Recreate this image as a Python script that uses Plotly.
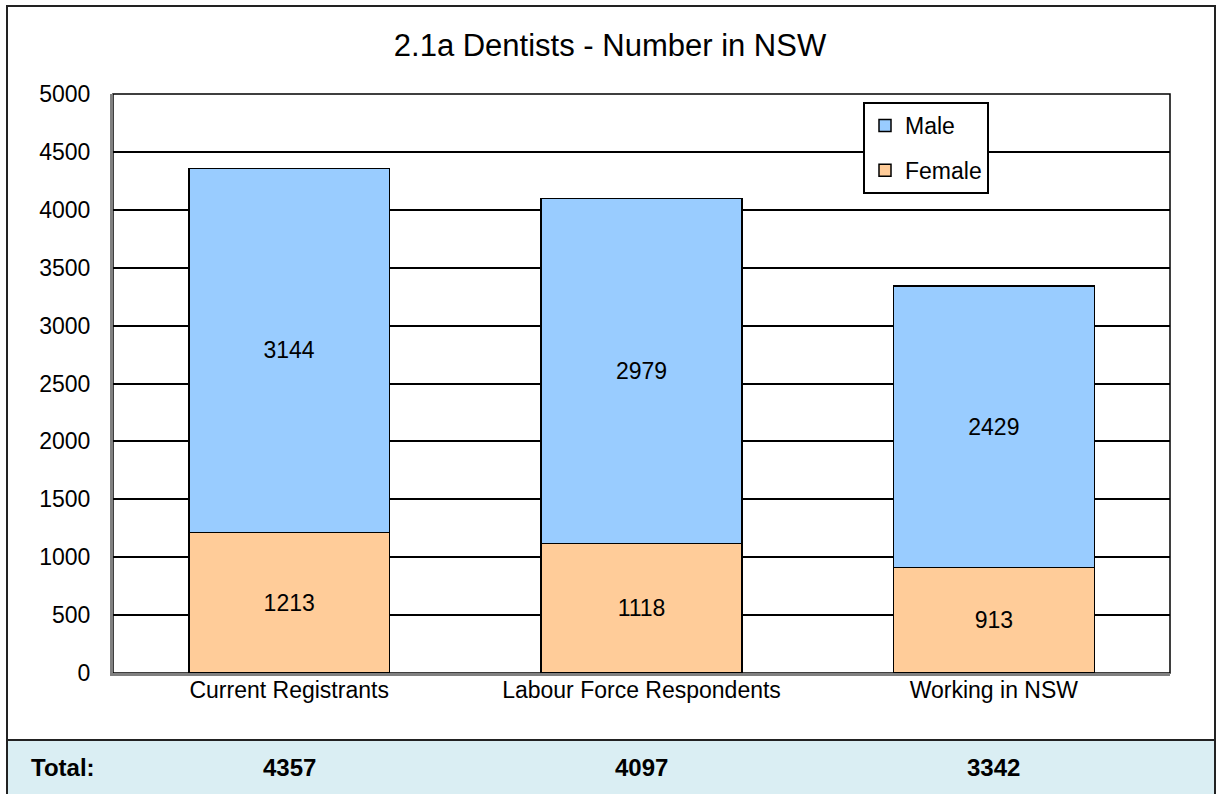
import plotly.graph_objects as go

categories = ["Current Registrants", "Labour Force Respondents", "Working in NSW"]
female = [1213, 1118, 913]
male = [3144, 2979, 2429]
totals = [f + m for f, m in zip(female, male)]
y_ticks = [0, 500, 1000, 1500, 2000, 2500, 3000, 3500, 4000, 4500, 5000]

W, H = 1217, 794
L, R, T, B = 113, 1170, 94, 673

def px(x):
    return (x - L) / (R - L)

def py(y):
    return (B - y) / (B - T)

font_family = "Liberation Sans, Arial, sans-serif"

fig = go.Figure()
fig.add_trace(go.Bar(
    name="Female", x=categories, y=female, legendgroup="f", legendrank=2,
    marker=dict(color="#ffcc99", line=dict(color="black", width=1.5)),
    text=[str(v) for v in female], textposition="inside", insidetextanchor="middle",
    textfont=dict(size=23, color="black", family=font_family),
    width=0.57, hoverinfo="skip",
))
fig.add_trace(go.Bar(
    name="Male", x=categories, y=male, legendgroup="m", legendrank=1,
    marker=dict(color="#99ccff", line=dict(color="black", width=1.5)),
    text=[str(v) for v in male], textposition="inside", insidetextanchor="middle",
    textfont=dict(size=23, color="black", family=font_family),
    width=0.57, hoverinfo="skip",
))

shapes = [
    # plot area frame (top/right black)
    dict(type="rect", xref="paper", yref="paper", x0=0, x1=1, y0=0, y1=1,
         line=dict(color="black", width=1.5), layer="below"),
    # total band
    dict(type="rect", xref="paper", yref="paper", x0=px(7), x1=px(1215), y0=py(800), y1=py(740),
         line=dict(color="#222222", width=2), fillcolor="#daeef3", layer="below"),
    # outer chart border
    dict(type="rect", xref="paper", yref="paper", x0=px(7), x1=px(1215), y0=py(740), y1=py(6),
         line=dict(color="#222222", width=2), fillcolor="rgba(0,0,0,0)"),
]

annotations = [
    dict(text="<b>Total:</b>", xref="paper", yref="paper", x=px(29), y=py(767),
         xanchor="left", yanchor="middle", showarrow=False,
         font=dict(size=24, color="black", family=font_family)),
]
for c, t in zip(categories, totals):
    annotations.append(dict(text=f"<b>{t}</b>", xref="x", yref="paper", x=c, y=py(767),
                            xanchor="center", yanchor="middle", showarrow=False,
                            font=dict(size=24, color="black", family=font_family)))

fig.update_layout(
    width=W, height=H,
    margin=dict(l=L, r=W - R, t=T, b=H - B, pad=0),
    paper_bgcolor="white", plot_bgcolor="white",
    barmode="stack",
    title=dict(text="2.1a Dentists - Number in NSW", x=px(610), xref="paper", xanchor="center",
               y=1 - 45 / H, yanchor="middle",
               font=dict(size=31, color="black", family=font_family)),
    font=dict(family=font_family, size=23, color="black"),
    xaxis=dict(showline=True, linecolor="#808080", linewidth=3, showgrid=False,
               ticks="", tickfont=dict(size=23), ticklabelstandoff=-6),
    yaxis=dict(range=[0, 5000], tickvals=y_ticks, showline=True, linecolor="#808080", linewidth=3,
               showgrid=True, gridcolor="black", gridwidth=1.5, zeroline=False,
               ticks="", tickfont=dict(size=23), ticklabelstandoff=15),
    legend=dict(x=px(863), y=py(102), xanchor="left", yanchor="top",
                bgcolor="white", bordercolor="black", borderwidth=2,
                font=dict(size=23), traceorder="grouped",
                itemwidth=30, tracegroupgap=12),
    shapes=shapes,
    annotations=annotations,
)

fig.write_html("out.html", config={"displayModeBar": False},
               post_script="document.body.style.margin='0px';")
